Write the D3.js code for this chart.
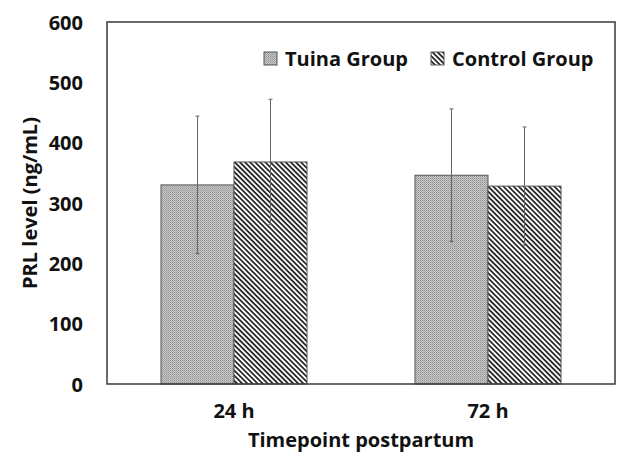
<!DOCTYPE html>
<html>
<head>
<meta charset="utf-8">
<script src="https://cdn.jsdelivr.net/npm/d3@7"></script>
<style>
  body { margin: 0; background: #fff; }
  text { font-family: "Open Sans", "DejaVu Sans", sans-serif; font-weight: bold; fill: #111; }
</style>
</head>
<body>
<div id="chart"></div>
<script>
// values
var timepoints = ['24 h', '72 h'];
var groups = ['Tuina Group', 'Control Group'];
var tuinaMean = [330, 346];
var tuinaSD = [114, 110];
var controlMean = [368, 328];
var controlSD = [104, 98];
var yTicks = [0, 100, 200, 300, 400, 500, 600];

var width = 628, height = 462;
var margin = {top: 22, right: 13, bottom: 78, left: 107};

var svg = d3.select('#chart').append('svg')
    .attr('width', width)
    .attr('height', height);

// fill patterns: stipple for tuina, diagonal hatch for control
var defs = svg.append('defs');
var dots = defs.append('pattern')
    .attr('id', 'stipple')
    .attr('patternUnits', 'userSpaceOnUse')
    .attr('width', 2).attr('height', 2);
dots.append('rect').attr('width', 2).attr('height', 2).attr('fill', '#c8c8c8');
dots.append('rect').attr('width', 1).attr('height', 1).attr('fill', '#909090');
dots.append('rect').attr('x', 1).attr('y', 1).attr('width', 1).attr('height', 1).attr('fill', '#a8a8a8');

var hatch = defs.append('pattern')
    .attr('id', 'hatch')
    .attr('patternUnits', 'userSpaceOnUse')
    .attr('width', 3.6).attr('height', 3.6)
    .attr('patternTransform', 'rotate(-45)');
hatch.append('rect').attr('width', 3.6).attr('height', 3.6).attr('fill', '#fff');
hatch.append('rect').attr('width', 1.8).attr('height', 3.6).attr('fill', '#2a2a2a');

var x0 = d3.scaleBand()
    .domain(timepoints)
    .range([margin.left, width - margin.right])
    .paddingInner(0.425).paddingOuter(0.2125);

var x1 = d3.scaleBand()
    .domain(groups)
    .range([0, x0.bandwidth()]);

var y = d3.scaleLinear()
    .domain([0, 600])
    .range([height - margin.bottom, margin.top]);

var fills = {'Tuina Group': 'url(#stipple)', 'Control Group': 'url(#hatch)'};

var rows = [];
timepoints.forEach(function (t, i) {
    rows.push({t: t, g: groups[0], mean: tuinaMean[i], sd: tuinaSD[i]});
    rows.push({t: t, g: groups[1], mean: controlMean[i], sd: controlSD[i]});
});

// bars
svg.selectAll('.bar')
    .data(rows)
    .enter().append('rect')
    .attr('class', 'bar')
    .attr('x', function (d) { return x0(d.t) + x1(d.g); })
    .attr('y', function (d) { return y(d.mean); })
    .attr('width', x1.bandwidth())
    .attr('height', function (d) { return y(0) - y(d.mean); })
    .attr('fill', function (d) { return fills[d.g]; })
    .attr('stroke', '#555')
    .attr('stroke-width', 1);

// error bars
var err = svg.selectAll('.err')
    .data(rows)
    .enter().append('g')
    .attr('class', 'err')
    .attr('transform', function (d) {
        return 'translate(' + (x0(d.t) + x1(d.g) + x1.bandwidth() / 2) + ',0)';
    });
err.append('line')
    .attr('y1', function (d) { return y(d.mean + d.sd); })
    .attr('y2', function (d) { return y(d.mean - d.sd); })
    .attr('stroke', '#666').attr('stroke-width', 1);
err.append('line')
    .attr('x1', -2).attr('x2', 2)
    .attr('y1', function (d) { return y(d.mean + d.sd); })
    .attr('y2', function (d) { return y(d.mean + d.sd); })
    .attr('stroke', '#666').attr('stroke-width', 1);
err.append('line')
    .attr('x1', -2).attr('x2', 2)
    .attr('y1', function (d) { return y(d.mean - d.sd); })
    .attr('y2', function (d) { return y(d.mean - d.sd); })
    .attr('stroke', '#666').attr('stroke-width', 1);

// plot frame
svg.append('rect')
    .attr('x', margin.left)
    .attr('y', margin.top)
    .attr('width', width - margin.left - margin.right)
    .attr('height', height - margin.top - margin.bottom)
    .attr('fill', 'none')
    .attr('stroke', '#3a3a3a')
    .attr('stroke-width', 1.5);

// axes (labels only, no tick marks)
var yAxis = svg.append('g')
    .attr('transform', 'translate(' + margin.left + ',0)')
    .call(d3.axisLeft(y).tickValues(yTicks).tickSize(0).tickPadding(24));
yAxis.select('.domain').remove();
yAxis.selectAll('text').style('font-size', '20px').attr('dy', '0.35em');

var xAxis = svg.append('g')
    .attr('transform', 'translate(0,' + (height - margin.bottom) + ')')
    .call(d3.axisBottom(x0).tickSize(0).tickPadding(20));
xAxis.select('.domain').remove();
xAxis.selectAll('text').style('font-size', '20px');

// axis titles
svg.append('text')
    .attr('x', (margin.left + width - margin.right) / 2)
    .attr('y', 447)
    .attr('text-anchor', 'middle')
    .style('font-size', '20px')
    .text('Timepoint postpartum');

svg.append('text')
    .attr('transform', 'translate(37,' + y(300) + ') rotate(-90)')
    .attr('text-anchor', 'middle')
    .style('font-size', '20px')
    .text('PRL level (ng/mL)');

// legend
var legendX = [264, 431];
var legend = svg.selectAll('.legend')
    .data(groups)
    .enter().append('g')
    .attr('class', 'legend')
    .attr('transform', function (d, i) { return 'translate(' + legendX[i] + ',52)'; });
legend.append('rect')
    .attr('width', 13).attr('height', 13)
    .attr('fill', function (d) { return fills[d]; })
    .attr('stroke', '#555').attr('stroke-width', 1);
legend.append('text')
    .attr('x', 21).attr('y', 14)
    .style('font-size', '20px')
    .text(function (d) { return d; });
</script>
</body>
</html>
